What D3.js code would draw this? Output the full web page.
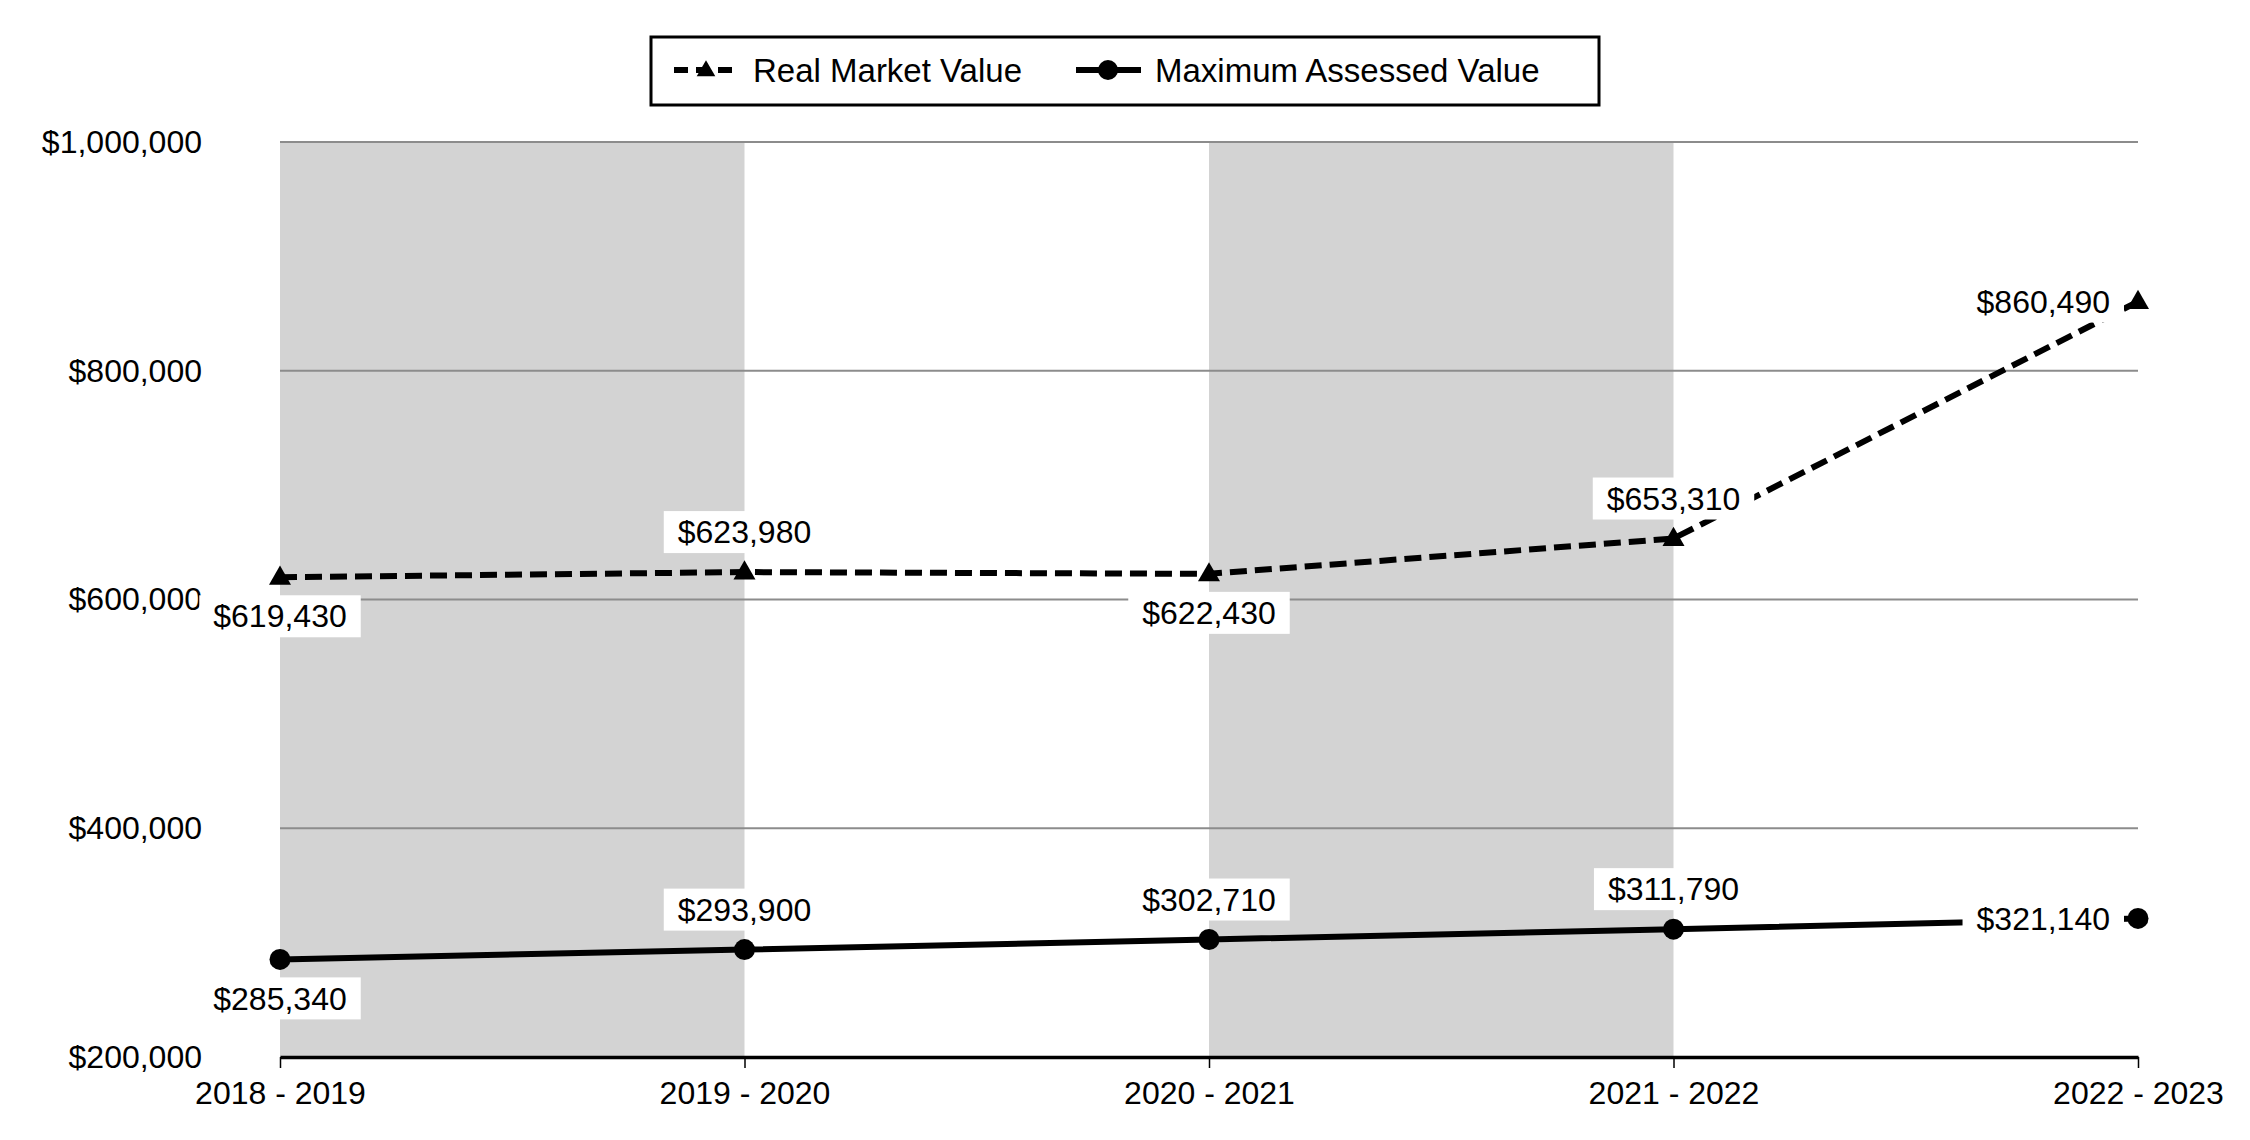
<!DOCTYPE html>
<html>
<head>
<meta charset="utf-8">
<script src="https://cdn.jsdelivr.net/npm/d3@7/dist/d3.min.js"></script>
<style>
  body { margin: 0; background: #ffffff; }
  text { font-family: Arial, "Liberation Sans", sans-serif; fill: #000000; }
</style>
</head>
<body>
<script>
// Data
var years = ['2018 - 2019', '2019 - 2020', '2020 - 2021', '2021 - 2022', '2022 - 2023'];
var realMarketValue = [619430, 623980, 622430, 653310, 860490];
var maxAssessedValue = [285340, 293900, 302710, 311790, 321140];
var yTicks = [200000, 400000, 600000, 800000, 1000000];
var seriesNames = ['Real Market Value', 'Maximum Assessed Value'];

// Configuration
var width = 2250;
var height = 1140;
var plotLeft = 280;
var plotRight = 2138;
var plotTop = 142;
var plotBottom = 1057;
var fontSize = 32;
var bandColor = '#d3d3d3';
var gridColor = '#8c8c8c';

// where each value label sits relative to its point
var rmvLabelSide = ['below', 'above', 'below', 'above', 'left'];
var mavLabelSide = ['below', 'above', 'above', 'above', 'left'];

var svg = d3.select('body')
  .append('svg')
  .attr('width', width)
  .attr('height', height);

var x = d3.scalePoint()
  .domain(years)
  .range([plotLeft, plotRight]);

var y = d3.scaleLinear()
  .domain([200000, 1000000])
  .range([plotBottom, plotTop]);

var money = function(v) { return '$' + d3.format(',')(v); };

// shaded bands on every other interval
var bandIdx = [0, 2];
svg.append('g').selectAll('rect')
  .data(bandIdx)
  .enter()
  .append('rect')
  .attr('x', function(i) { return x(years[i]); })
  .attr('y', plotTop)
  .attr('width', function(i) { return x(years[i + 1]) - x(years[i]); })
  .attr('height', plotBottom - plotTop)
  .attr('fill', bandColor);

// gridlines
svg.append('g').selectAll('line')
  .data(yTicks.filter(function(t) { return t > 200000; }))
  .enter()
  .append('line')
  .attr('x1', plotLeft)
  .attr('x2', plotRight)
  .attr('y1', function(d) { return y(d); })
  .attr('y2', function(d) { return y(d); })
  .attr('stroke', gridColor)
  .attr('stroke-width', 2);

// y axis labels
var yAxis = svg.append('g')
  .attr('transform', 'translate(' + plotLeft + ',0)')
  .call(d3.axisLeft(y).tickValues(yTicks).tickFormat(money).tickSize(0).tickPadding(78));
yAxis.select('.domain').remove();
yAxis.selectAll('text')
  .style('font-size', fontSize + 'px')
  .attr('font-family', null);

// x axis
var xAxis = svg.append('g')
  .attr('transform', 'translate(0,' + plotBottom + ')')
  .call(d3.axisBottom(x).tickSize(11).tickSizeOuter(0).tickPadding(13));
xAxis.select('.domain')
  .attr('stroke', '#000')
  .attr('stroke-width', 3.5);
xAxis.selectAll('.tick line')
  .attr('stroke', '#000')
  .attr('stroke-width', 1.5);
xAxis.selectAll('text')
  .style('font-size', fontSize + 'px')
  .attr('font-family', null);

// lines
var line = d3.line()
  .x(function(d, i) { return x(years[i]); })
  .y(function(d) { return y(d); });

svg.append('path')
  .datum(realMarketValue)
  .attr('d', line)
  .attr('fill', 'none')
  .attr('stroke', '#000')
  .attr('stroke-width', 6)
  .attr('stroke-dasharray', '17,8');

svg.append('path')
  .datum(maxAssessedValue)
  .attr('d', line)
  .attr('fill', 'none')
  .attr('stroke', '#000')
  .attr('stroke-width', 6);

// value labels with white boxes
function drawLabels(values, sides) {
  var g = svg.append('g');
  values.forEach(function(v, i) {
    var px = x(years[i]);
    var py = y(v);
    var lx = px, ly = py, anchor = 'middle';
    if (sides[i] === 'below') { ly = py + 39; }
    if (sides[i] === 'above') { ly = py - 40; }
    if (sides[i] === 'left') { lx = px - 28; anchor = 'end'; }
    var box = g.append('rect').attr('fill', '#fff');
    var t = g.append('text')
      .attr('x', lx)
      .attr('y', ly)
      .attr('dy', '0.35em')
      .attr('text-anchor', anchor)
      .style('font-size', fontSize + 'px')
      .text(money(v));
    var bb = t.node().getBBox();
    box.attr('x', bb.x - 14)
      .attr('y', ly - 21)
      .attr('width', bb.width + 28)
      .attr('height', 42);
  });
}
drawLabels(realMarketValue, rmvLabelSide);
drawLabels(maxAssessedValue, mavLabelSide);

// markers
var triangle = d3.symbol().type(d3.symbolTriangle).size(210);

svg.append('g').selectAll('path')
  .data(realMarketValue)
  .enter()
  .append('path')
  .attr('d', triangle)
  .attr('transform', function(d, i) { return 'translate(' + x(years[i]) + ',' + (y(d) + 1) + ')'; })
  .attr('fill', '#000');

svg.append('g').selectAll('circle')
  .data(maxAssessedValue)
  .enter()
  .append('circle')
  .attr('cx', function(d, i) { return x(years[i]); })
  .attr('cy', function(d) { return y(d); })
  .attr('r', 10.5)
  .attr('fill', '#000');

// legend
var legend = svg.append('g');
legend.append('rect')
  .attr('x', 651)
  .attr('y', 37)
  .attr('width', 948)
  .attr('height', 68)
  .attr('fill', '#fff')
  .attr('stroke', '#000')
  .attr('stroke-width', 3);

var legendItems = [
  { x: 674, dash: '14,8', marker: 'triangle' },
  { x: 1076, dash: null, marker: 'circle' }
];
legendItems.forEach(function(item, i) {
  var ly = 70;
  legend.append('line')
    .attr('x1', item.x)
    .attr('x2', item.x + 65)
    .attr('y1', ly)
    .attr('y2', ly)
    .attr('stroke', '#000')
    .attr('stroke-width', 6)
    .attr('stroke-dasharray', item.dash);
  if (item.marker === 'triangle') {
    legend.append('path')
      .attr('d', d3.symbol().type(d3.symbolTriangle).size(150))
      .attr('transform', 'translate(' + (item.x + 32) + ',' + (ly + 1) + ')')
      .attr('fill', '#000');
  } else {
    legend.append('circle')
      .attr('cx', item.x + 32)
      .attr('cy', ly)
      .attr('r', 10)
      .attr('fill', '#000');
  }
  legend.append('text')
    .attr('x', item.x + 79)
    .attr('y', ly)
    .attr('dy', '0.35em')
    .style('font-size', '33px')
    .text(seriesNames[i]);
});
</script>
</body>
</html>
